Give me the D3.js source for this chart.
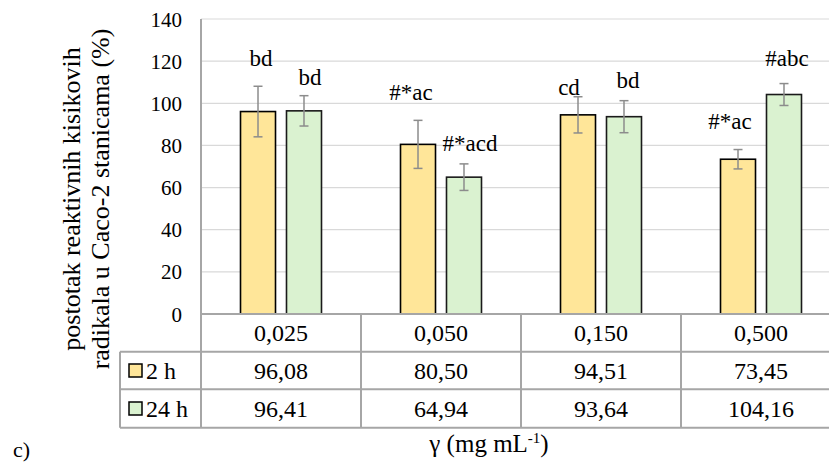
<!DOCTYPE html>
<html><head><meta charset="utf-8">
<script src="https://cdn.jsdelivr.net/npm/d3@7"></script>
<style>body{margin:0;background:#fff}svg{display:block}svg text{font-family:'Liberation Serif','Tinos','Times New Roman','DejaVu Serif',serif !important;fill:#000}</style>
</head><body>
<svg id="c" width="829" height="462"></svg>
<script>
const categories = ["0,025", "0,050", "0,150", "0,500"];
const series = ["2 h", "24 h"];
const values2h = [96.08, 80.50, 94.51, 73.45];
const values24h = [96.41, 64.94, 93.64, 104.16];
const err2h = [12.0, 11.4, 8.6, 4.6];
const err24h = [7.2, 6.3, 7.6, 5.2];
const labels2h = ["bd", "#*ac", "cd", "#*ac"];
const labels24h = ["bd", "#*acd", "bd", "#abc"];
const labelY2h = [117.7, 101.6, 103.9, 87.8];
const labelY24h = [108.7, 77.4, 107.3, 117.7];
const labelShift2h = [3, -7, -9, -8];
const labelShift24h = [6, 6, 4, 3];
const yTicks = [0, 20, 40, 60, 80, 100, 120, 140];
const colors = ["#FFE699", "#DAF2D0"];

const FONT = "'Liberation Serif', 'Tinos', 'Times New Roman', serif";
const svg = d3.select("#c").attr("font-family", FONT);
const L = 201, R = 841, T = 19, B = 314;
const rows = [314, 351.7, 389.3, 427.7];
const legendLeft = 120;

const x = d3.scaleBand().domain(categories).range([L, R]).padding(0);
const xs = d3.scaleBand().domain(series).range([0, x.bandwidth()]).paddingInner(0.239).paddingOuter(0.859);
const y = d3.scaleLinear().domain([0, 140]).range([B, T]);

// gridlines
svg.append("g").selectAll("line").data(yTicks.filter(d => d > 0)).join("line")
  .attr("x1", L).attr("x2", R).attr("y1", d => y(d)).attr("y2", d => y(d))
  .attr("stroke", "#D9D9D9").attr("stroke-width", 1.2);

// y axis
const yAxis = d3.axisLeft(y).tickValues(yTicks).tickSize(0).tickPadding(19);
const ga = svg.append("g").attr("transform", `translate(${L},0)`).call(yAxis)
  .attr("font-family", FONT).attr("font-size", 21);
ga.select(".domain").remove();
ga.selectAll("text").attr("fill", "#000").attr("dy", "0.34em");

const data = [];
categories.forEach((c, i) => {
  data.push({c, s: series[0], v: values2h[i], e: err2h[i], lab: labels2h[i], ly: labelY2h[i], dx: labelShift2h[i], col: colors[0]});
  data.push({c, s: series[1], v: values24h[i], e: err24h[i], lab: labels24h[i], ly: labelY24h[i], dx: labelShift24h[i], col: colors[1]});
});

// bars
svg.append("g").selectAll("rect").data(data).join("rect")
  .attr("x", d => x(d.c) + xs(d.s)).attr("width", xs.bandwidth())
  .attr("y", d => y(d.v)).attr("height", d => y(0) - y(d.v))
  .attr("fill", d => d.col).attr("stroke", d => d.s === series[0] ? "#000" : "#1a1a1a").attr("stroke-width", 1.6);

// error bars
const eg = svg.append("g").attr("stroke", "#8C8C8C").attr("stroke-width", 1.5);
data.forEach(d => {
  const cx = x(d.c) + xs(d.s) + xs.bandwidth() / 2;
  eg.append("line").attr("x1", cx).attr("x2", cx).attr("y1", y(d.v + d.e)).attr("y2", y(d.v - d.e));
  [d.v + d.e, d.v - d.e].forEach(v => eg.append("line").attr("x1", cx - 4.5).attr("x2", cx + 4.5).attr("y1", y(v)).attr("y2", y(v)));
});

// labels
svg.append("g").selectAll("text").data(data).join("text")
  .attr("x", d => x(d.c) + xs(d.s) + xs.bandwidth() / 2 + d.dx).attr("y", d => y(d.ly))
  .attr("text-anchor", "middle").attr("font-size", 23).text(d => d.lab);

// table lines
const tl = svg.append("g").attr("stroke", "#A6A6A6").attr("stroke-width", 2);
tl.append("line").attr("x1", L).attr("x2", L).attr("y1", T).attr("y2", rows[3]);
tl.append("line").attr("x1", L).attr("x2", R).attr("y1", rows[0]).attr("y2", rows[0]);
[1, 2, 3].forEach(i => tl.append("line").attr("x1", legendLeft).attr("x2", R).attr("y1", rows[i]).attr("y2", rows[i]));
tl.append("line").attr("x1", legendLeft).attr("x2", legendLeft).attr("y1", rows[1]).attr("y2", rows[3]);
categories.slice(1).forEach(c => tl.append("line").attr("x1", x(c)).attr("x2", x(c)).attr("y1", rows[0]).attr("y2", rows[3]));

// table text
const tt = svg.append("g").attr("font-size", 24).attr("text-anchor", "middle");
categories.forEach((c, i) => {
  const cx = x(c) + x.bandwidth() / 2;
  tt.append("text").attr("x", cx).attr("y", (rows[0] + rows[1]) / 2).attr("dy", "0.34em").text(c);
  tt.append("text").attr("x", cx).attr("y", (rows[1] + rows[2]) / 2).attr("dy", "0.34em").text(values2h[i].toFixed(2).replace(".", ","));
  tt.append("text").attr("x", cx).attr("y", (rows[2] + rows[3]) / 2).attr("dy", "0.34em").text(values24h[i].toFixed(2).replace(".", ","));
});

// legend in table
series.forEach((s, i) => {
  const cy = (rows[i + 1] + rows[i + 2]) / 2;
  svg.append("rect").attr("x", 129).attr("y", cy - 6.5).attr("width", 13).attr("height", 13)
    .attr("fill", colors[i]).attr("stroke", "#000").attr("stroke-width", 1.5);
  svg.append("text").attr("x", 146).attr("y", cy).attr("dy", "0.34em").attr("font-size", 24).text(s);
});

// y axis title
const yt = svg.append("text").attr("transform", "translate(80,199) rotate(-90)").attr("text-anchor", "middle").attr("font-size", 26);
yt.append("tspan").attr("x", 0).attr("y", 0).text("postotak reaktivnih kisikovih");
yt.append("tspan").attr("x", 0).attr("y", 29).text("radikala u Caco-2 stanicama (%)");

// x axis title
const xt = svg.append("text").attr("x", 489).attr("y", 452).attr("text-anchor", "middle").attr("font-size", 25);
xt.append("tspan").text("γ (mg mL");
xt.append("tspan").attr("font-size", 15).attr("dy", -9).text("-1");
xt.append("tspan").attr("dy", 9).text(")");

svg.append("text").attr("x", 13).attr("y", 457).attr("font-size", 22).text("c)");
</script>
</body></html>
